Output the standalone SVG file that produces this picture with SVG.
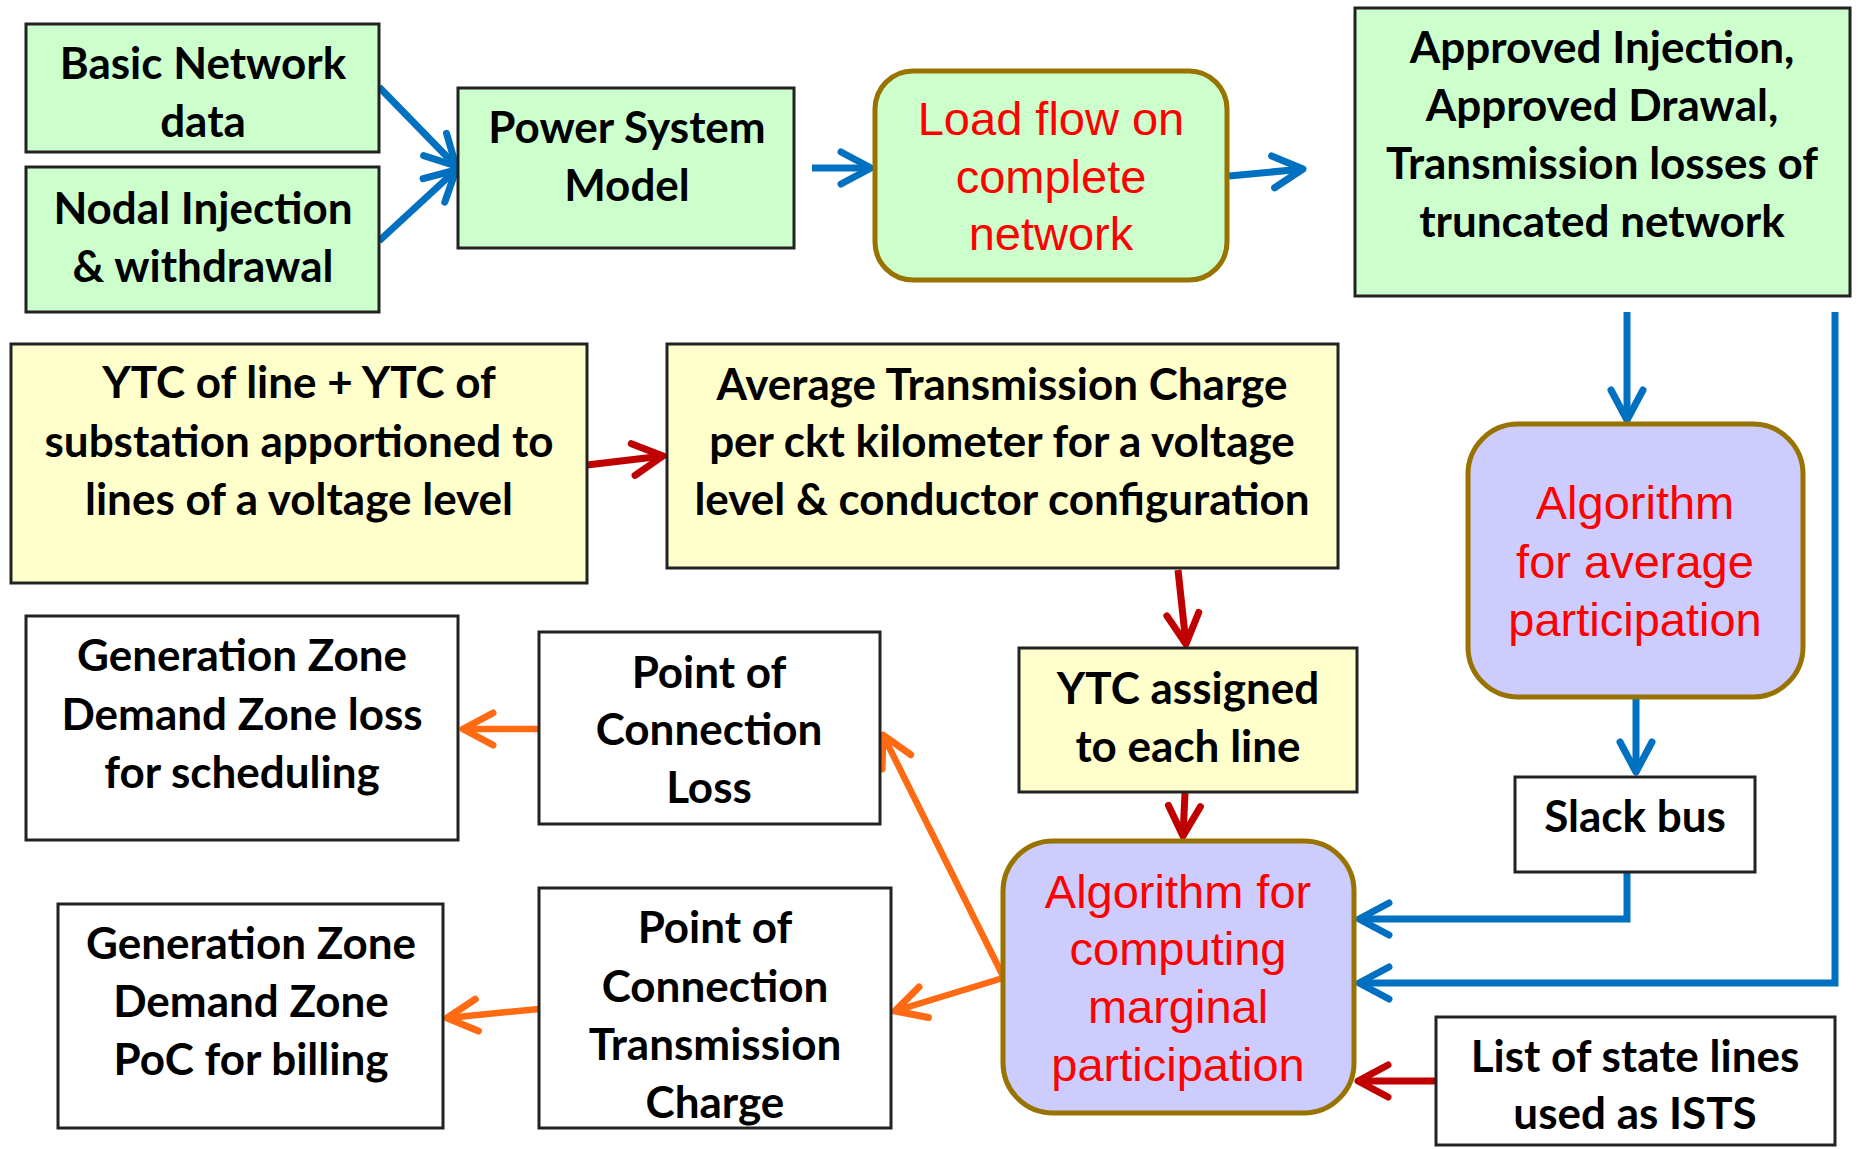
<svg xmlns="http://www.w3.org/2000/svg" width="1862" height="1149" viewBox="0 0 1862 1149">
<style>
.g{fill:#ccffcc;stroke:#222;stroke-width:3}
.y{fill:#ffffcc;stroke:#222;stroke-width:3}
.w{fill:#fff;stroke:#222;stroke-width:3}
.rg{fill:#ccffcc;stroke:#997300;stroke-width:5}
.rb{fill:#ccccff;stroke:#997300;stroke-width:5}
.t{font-family:Lato,"Liberation Sans",sans-serif;font-weight:bold;font-size:44px;fill:#000;text-anchor:middle}
.r{font-family:"Liberation Sans",sans-serif;font-size:47px;fill:#ff0000;text-anchor:middle}
.cb{fill:none;stroke:#0070c0;stroke-width:7}
.cr{fill:none;stroke:#c00000;stroke-width:7}
.co{fill:none;stroke:#ff6a13;stroke-width:6.5}
</style>
<defs>
<marker id="ab" markerUnits="userSpaceOnUse" markerWidth="50" markerHeight="50" viewBox="-40 -25 50 50" refX="0" refY="0" orient="auto"><path d="M-30,-16 L0,0 L-30,16" fill="none" stroke="#0070c0" stroke-width="7" stroke-linecap="round" stroke-linejoin="round"/></marker>
<marker id="ar" markerUnits="userSpaceOnUse" markerWidth="50" markerHeight="50" viewBox="-40 -25 50 50" refX="0" refY="0" orient="auto"><path d="M-30,-16 L0,0 L-30,16" fill="none" stroke="#c00000" stroke-width="7" stroke-linecap="round" stroke-linejoin="round"/></marker>
<marker id="ao" markerUnits="userSpaceOnUse" markerWidth="50" markerHeight="50" viewBox="-40 -25 50 50" refX="0" refY="0" orient="auto"><path d="M-30,-16 L0,0 L-30,16" fill="none" stroke="#ff6a13" stroke-width="7" stroke-linecap="round" stroke-linejoin="round"/></marker>
</defs>
<rect width="1862" height="1149" fill="#fff"/>
<g id="connectors">
<path class="cb" d="M379,87 L456,166" marker-end="url(#ab)"/>
<path class="cb" d="M379,241 L456,170" marker-end="url(#ab)"/>
<path class="cb" d="M812,168 L871,168" marker-end="url(#ab)"/>
<path class="cb" d="M1229,176 L1303,169" marker-end="url(#ab)"/>
<path class="cb" d="M1627,312 L1627,420" marker-end="url(#ab)"/>
<path class="cb" d="M1636,698 L1636,772" marker-end="url(#ab)"/>
<path class="cb" d="M1627,873 L1627,919 L1359,919" marker-end="url(#ab)"/>
<path class="cb" d="M1835,312 L1835,983 L1359,983" marker-end="url(#ab)"/>
<path class="cr" d="M587,465 L663,456" marker-end="url(#ar)"/>
<path class="cr" d="M1178,570 L1186,644" marker-end="url(#ar)"/>
<path class="cr" d="M1185,793 L1183,836" marker-end="url(#ar)"/>
<path class="cr" d="M1436,1081 L1358,1081" marker-end="url(#ar)"/>
<path class="co" d="M539,729 L463,729" marker-end="url(#ao)"/>
<path class="co" d="M1003,976 L883,735" marker-end="url(#ao)"/>
<path class="co" d="M1003,978 L895,1011" marker-end="url(#ao)"/>
<path class="co" d="M539,1009 L447,1018" marker-end="url(#ao)"/>
</g>
<g id="basic"><rect class="g" x="26" y="24" width="353" height="128"/><text class="t"><tspan x="203" y="79">Basic Network</tspan><tspan x="203" y="137">data</tspan></text></g>
<g id="nodal"><rect class="g" x="26" y="167" width="353" height="145"/><text class="t"><tspan x="203" y="224">Nodal Injection</tspan><tspan x="203" y="282">&amp; withdrawal</tspan></text></g>
<g id="psm"><rect class="g" x="458" y="88" width="336" height="160"/><text class="t"><tspan x="627" y="143">Power System</tspan><tspan x="627" y="201">Model</tspan></text></g>
<g id="loadflow"><rect class="rg" x="875" y="71" width="352" height="209" rx="38"/><text class="r"><tspan x="1051" y="135">Load flow on</tspan><tspan x="1051" y="193">complete</tspan><tspan x="1051" y="250">network</tspan></text></g>
<g id="approved"><rect class="g" x="1355" y="8" width="495" height="288"/><text class="t"><tspan x="1602" y="63">Approved Injection,</tspan><tspan x="1602" y="121">Approved Drawal,</tspan><tspan x="1602" y="179">Transmission losses of</tspan><tspan x="1602" y="237">truncated network</tspan></text></g>
<g id="ytcline"><rect class="y" x="11" y="344" width="576" height="239"/><text class="t"><tspan x="299" y="398">YTC of line + YTC of</tspan><tspan x="299" y="457">substation apportioned to</tspan><tspan x="299" y="515">lines of a voltage level</tspan></text></g>
<g id="avgtc"><rect class="y" x="667" y="344" width="671" height="224"/><text class="t"><tspan x="1002" y="400">Average Transmission Charge</tspan><tspan x="1002" y="457">per ckt kilometer for a voltage</tspan><tspan x="1002" y="515">level &amp; conductor configuration</tspan></text></g>
<g id="ytcassigned"><rect class="y" x="1019" y="648" width="338" height="144"/><text class="t"><tspan x="1188" y="704">YTC assigned</tspan><tspan x="1188" y="762">to each line</tspan></text></g>
<g id="algoavg"><rect class="rb" x="1468" y="424" width="335" height="273" rx="50"/><text class="r"><tspan x="1635" y="519">Algorithm</tspan><tspan x="1635" y="578">for average</tspan><tspan x="1635" y="636">participation</tspan></text></g>
<g id="slack"><rect class="w" x="1515" y="777" width="240" height="95"/><text class="t"><tspan x="1635" y="832">Slack bus</tspan></text></g>
<g id="marginal"><rect class="rb" x="1003" y="841" width="351" height="272" rx="50"/><text class="r"><tspan x="1178" y="908">Algorithm for</tspan><tspan x="1178" y="965">computing</tspan><tspan x="1178" y="1023">marginal</tspan><tspan x="1178" y="1081">participation</tspan></text></g>
<g id="ists"><rect class="w" x="1436" y="1017" width="399" height="128"/><text class="t"><tspan x="1635" y="1072">List of state lines</tspan><tspan x="1635" y="1129">used as ISTS</tspan></text></g>
<g id="genloss"><rect class="w" x="26" y="616" width="432" height="224"/><text class="t"><tspan x="242" y="671">Generation Zone</tspan><tspan x="242" y="730">Demand Zone loss</tspan><tspan x="242" y="788">for scheduling</tspan></text></g>
<g id="pocloss"><rect class="w" x="539" y="632" width="341" height="192"/><text class="t"><tspan x="709" y="688">Point of</tspan><tspan x="709" y="745">Connection</tspan><tspan x="709" y="803">Loss</tspan></text></g>
<g id="genbill"><rect class="w" x="58" y="904" width="385" height="224"/><text class="t"><tspan x="251" y="959">Generation Zone</tspan><tspan x="251" y="1017">Demand Zone</tspan><tspan x="251" y="1075">PoC for billing</tspan></text></g>
<g id="poctc"><rect class="w" x="539" y="888" width="352" height="240"/><text class="t"><tspan x="715" y="943">Point of</tspan><tspan x="715" y="1002">Connection</tspan><tspan x="715" y="1060">Transmission</tspan><tspan x="715" y="1118">Charge</tspan></text></g>
</svg>
